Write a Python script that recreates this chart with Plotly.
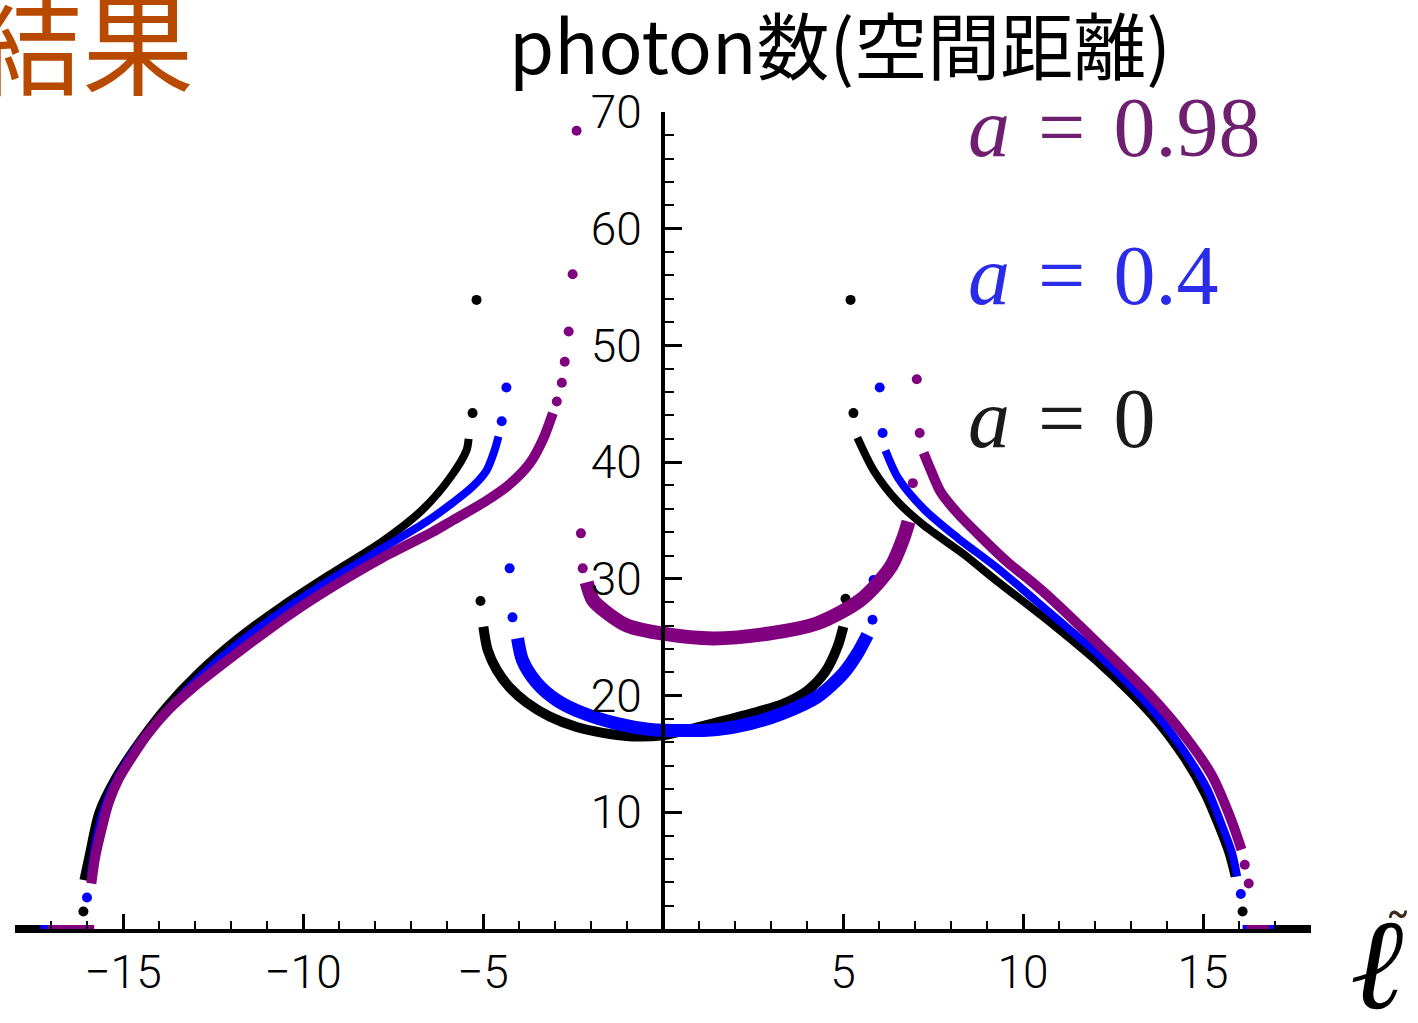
import plotly.graph_objects as go

# ---------------- data ----------------
# a = 0  (black)
a0_outL_x = [-16.1, -15.96, -15.68, -15.21, -14.57, -13.82, -12.9, -11.78, -10.58, -9.19, -7.8, -6.69, -5.93, -5.46, -5.4]
a0_outL_y = [4.2, 6.2, 10.0, 13.0, 16.0, 19.0, 22.0, 25.0, 27.7, 30.5, 33.2, 35.9, 38.6, 41.0, 42.0]
a0_outR_x = [5.4, 5.85, 6.52, 7.24, 8.36, 9.2, 10.78, 12.17, 13.57, 14.48, 15.04, 15.43, 15.71, 15.88]
a0_outR_y = [42.1, 39.3, 36.6, 34.6, 32.1, 30.0, 26.2, 22.6, 18.3, 14.6, 11.6, 8.8, 6.5, 4.5]
a0_in_x = [-4.99, -4.87, -4.62, -4.26, -3.79, -3.15, -2.4, -1.67, -0.84, 0.0, 0.6, 1.5, 2.5, 3.34, 4.0, 4.5, 4.85, 5.01]
a0_in_y = [25.9, 23.9, 22.2, 20.7, 19.4, 18.2, 17.3, 16.8, 16.5, 16.6, 17.0, 17.7, 18.5, 19.3, 20.4, 22.0, 24.2, 25.9]
a0_pts_x = [-5.07, 5.07, -5.29, -5.18, 5.29, 5.21, -16.1, 16.1]
a0_pts_y = [28.1, 28.3, 44.2, 53.9, 44.2, 53.9, 1.5, 1.5]
a0_zeroL_x = [-18.0, -16.3]
a0_zeroR_x = [16.3, 18.0]

# a = 0.4  (blue)
a4_outL_x = [-15.9, -15.72, -15.45, -15.0, -14.4, -13.6, -12.8, -11.7, -10.5, -9.2, -7.8, -6.57, -5.85, -5.29, -4.9, -4.68, -4.57]
a4_outL_y = [4.5, 8.0, 11.0, 13.8, 16.5, 19.3, 21.8, 24.7, 27.4, 30.0, 32.6, 34.9, 36.5, 37.9, 39.3, 41.0, 42.2]
a4_outR_x = [6.18, 6.52, 7.24, 8.19, 9.3, 10.78, 12.17, 13.57, 14.48, 15.1, 15.5, 15.8, 15.95]
a4_outR_y = [41.0, 38.7, 36.0, 33.5, 30.9, 27.0, 23.3, 18.9, 15.2, 12.1, 9.1, 6.6, 4.5]
a4_in_x = [-4.04, -3.9, -3.51, -2.95, -2.23, -1.28, -0.36, 0.56, 1.5, 2.42, 3.34, 4.29, 5.01, 5.4, 5.68]
a4_in_y = [24.9, 23.0, 21.1, 19.6, 18.5, 17.6, 17.1, 17.0, 17.1, 17.6, 18.5, 19.9, 21.9, 23.6, 25.2]
a4_pts_x = [-4.48, -4.35, -4.18, -4.26, 5.82, 5.85, 6.1, 6.02, -16.0, 16.05]
a4_pts_y = [43.5, 46.4, 26.7, 30.9, 26.5, 29.9, 42.5, 46.4, 2.7, 3.0]
a4_zeroL_x = [-17.3, -16.1]
a4_zeroR_x = [16.1, 17.0]

# a = 0.98  (purple)
a98_outL_x = [-15.88, -15.77, -15.6, -15.4, -15.13, -14.76, -14.29, -13.73, -13.09, -11.59, -10.39, -9.19, -7.8, -6.41, -5.85, -4.9, -4.26, -3.7, -3.34, -3.06]
a98_outL_y = [3.9, 6.2, 8.5, 10.8, 12.8, 14.7, 16.8, 18.8, 20.6, 24.2, 26.9, 29.3, 31.8, 34.0, 35.0, 36.7, 38.1, 39.9, 41.9, 44.2]
a98_outR_x = [7.24, 7.44, 7.72, 8.19, 8.83, 9.58, 10.22, 10.78, 12.17, 13.57, 14.48, 15.24, 15.79, 16.07]
a98_outR_y = [40.8, 39.3, 37.4, 35.6, 33.6, 31.4, 29.8, 28.3, 24.2, 19.9, 16.6, 13.2, 9.3, 6.8]
a98_in_x = [-2.12, -1.95, -1.56, -1.0, 0.0, 1.39, 2.9, 4.29, 5.49, 6.32, 6.69, 6.82]
a98_in_y = [29.7, 28.2, 27.1, 26.0, 25.3, 24.9, 25.3, 26.2, 28.2, 31.0, 33.6, 34.9]
a98_pts_x = [-2.95, -2.81, -2.73, -2.62, -2.51, -2.4, -2.28, -2.23, 6.94, 7.05, 7.13, 16.16, 16.27]
a98_pts_y = [45.2, 46.8, 48.6, 51.2, 56.1, 68.4, 33.9, 30.9, 38.2, 47.1, 42.5, 5.5, 3.9]
a98_zeroL_x = [-17.1, -15.8]
a98_zeroR_x = [16.2, 16.85]

x_tickvals = [-15, -10, -5, 5, 10, 15]
x_ticktext = ["\u221215", "\u221210", "\u22125", "5", "10", "15"]
y_tickvals = [10, 20, 30, 40, 50, 60, 70]
y_ticktext = ["10", "20", "30", "40", "50", "60", "70"]

labels = ["<i>a</i> \u200a=\u200a 0.98", "<i>a</i> \u200a=\u200a 0.4", "<i>a</i> \u200a=\u200a 0"]

BLACK = "#000000"
BLUE = "#0000FF"
PURPLE = "#800080"

# ---------------- figure ----------------
W, H = 1418, 1023
L, R, T, B = 15, 107, 112, 94
pw, ph = W - L - R, H - T - B


def px(x):
    return (x - L) / pw


def py(y):
    return (H - B - y) / ph


fig = go.Figure()


def add_series(color, outL, outR, inner, pts, zL, zR, wout, win):
    for xs, ys, w in [(outL[0], outL[1], wout), (outR[0], outR[1], wout), (inner[0], inner[1], win)]:
        fig.add_trace(go.Scatter(x=xs, y=ys, mode="lines",
                                 line=dict(color=color, width=w, shape="spline", smoothing=0.8),
                                 cliponaxis=False, hoverinfo="skip"))
    for zx in (zL, zR):
        fig.add_trace(go.Scatter(x=zx, y=[0] * len(zx), mode="lines",
                                 line=dict(color=color, width=8), cliponaxis=False, hoverinfo="skip"))
    fig.add_trace(go.Scatter(x=pts[0], y=pts[1], mode="markers",
                             marker=dict(color=color, size=10, line=dict(width=0)),
                             cliponaxis=False, hoverinfo="skip"))


add_series(BLACK, (a0_outL_x, a0_outL_y), (a0_outR_x, a0_outR_y), (a0_in_x, a0_in_y),
           (a0_pts_x, a0_pts_y), a0_zeroL_x, a0_zeroR_x, 8, 10)
add_series(BLUE, (a4_outL_x, a4_outL_y), (a4_outR_x, a4_outR_y), (a4_in_x, a4_in_y),
           (a4_pts_x, a4_pts_y), a4_zeroL_x, a4_zeroR_x, 8, 13)
add_series(PURPLE, (a98_outL_x, a98_outL_y), (a98_outR_x, a98_outR_y), (a98_in_x, a98_in_y),
           (a98_pts_x, a98_pts_y), a98_zeroL_x, a98_zeroR_x, 10, 14)

tickfont = dict(family="Roboto, Liberation Sans, sans-serif", size=46, color="black", weight=300)

fig.update_layout(
    width=W, height=H, autosize=False,
    margin=dict(l=L, r=R, t=T, b=B, pad=0),
    paper_bgcolor="white", plot_bgcolor="white",
    showlegend=False,
    xaxis=dict(range=[-18.0, 18.0], domain=[0, 1], showgrid=False, zeroline=False,
               showline=True, linecolor="black", linewidth=4,
               ticks="inside", ticklen=15, tickwidth=3, tickcolor="black",
               tickvals=x_tickvals, ticktext=x_ticktext, tickfont=tickfont,
               ticklabelstandoff=0,
               minor=dict(ticks="inside", dtick=1, tick0=0, ticklen=8, tickwidth=2, tickcolor="black"),
               layer="above traces", fixedrange=True),
    yaxis=dict(range=[0, 70], domain=[0, 1], anchor="free", position=px(663), side="left",
               showgrid=False, zeroline=False,
               showline=True, linecolor="black", linewidth=4,
               ticks="inside", ticklen=17, tickwidth=3, tickcolor="black",
               tickvals=y_tickvals, ticktext=y_ticktext, tickfont=tickfont,
               ticklabelstandoff=10,
               minor=dict(ticks="inside", dtick=2, tick0=0, ticklen=9, tickwidth=2, tickcolor="black"),
               layer="above traces", fixedrange=True),
)

ann = []
ann.append(dict(text="photon数(空間距離)", x=px(840), y=py(42), xref="paper", yref="paper",
                xanchor="center", yanchor="middle", showarrow=False,
                font=dict(family="Noto Sans CJK JP", size=73, color="black")))
ann.append(dict(text="結果", x=px(196), y=py(38), xref="paper", yref="paper",
                xanchor="right", yanchor="middle", showarrow=False,
                font=dict(family="Noto Sans CJK JP", size=112, color="#B84A00")))
label_colors = ["#6E1F70", "#2B2BEA", "#1A1A1A"]
label_y = [128, 275, 418]
for t, c, yy in zip(labels, label_colors, label_y):
    ann.append(dict(text=t, x=px(966), y=py(yy), xref="paper", yref="paper",
                    xanchor="left", yanchor="middle", showarrow=False,
                    font=dict(family="Liberation Serif, DejaVu Serif, serif", size=84, color=c)))
ann.append(dict(text="<i>\u2113</i>", x=px(1376), y=py(964), xref="paper", yref="paper",
                xanchor="center", yanchor="middle", showarrow=False,
                font=dict(family="DejaVu Serif, serif", size=128, color="black")))
ann.append(dict(text="\u02dc", x=px(1398), y=py(934), xref="paper", yref="paper",
                xanchor="center", yanchor="middle", showarrow=False,
                font=dict(family="DejaVu Serif, serif", size=56, color="#3a2a1a")))
fig.update_layout(annotations=ann)

fig.write_html("out.html", config={"displayModeBar": False})
